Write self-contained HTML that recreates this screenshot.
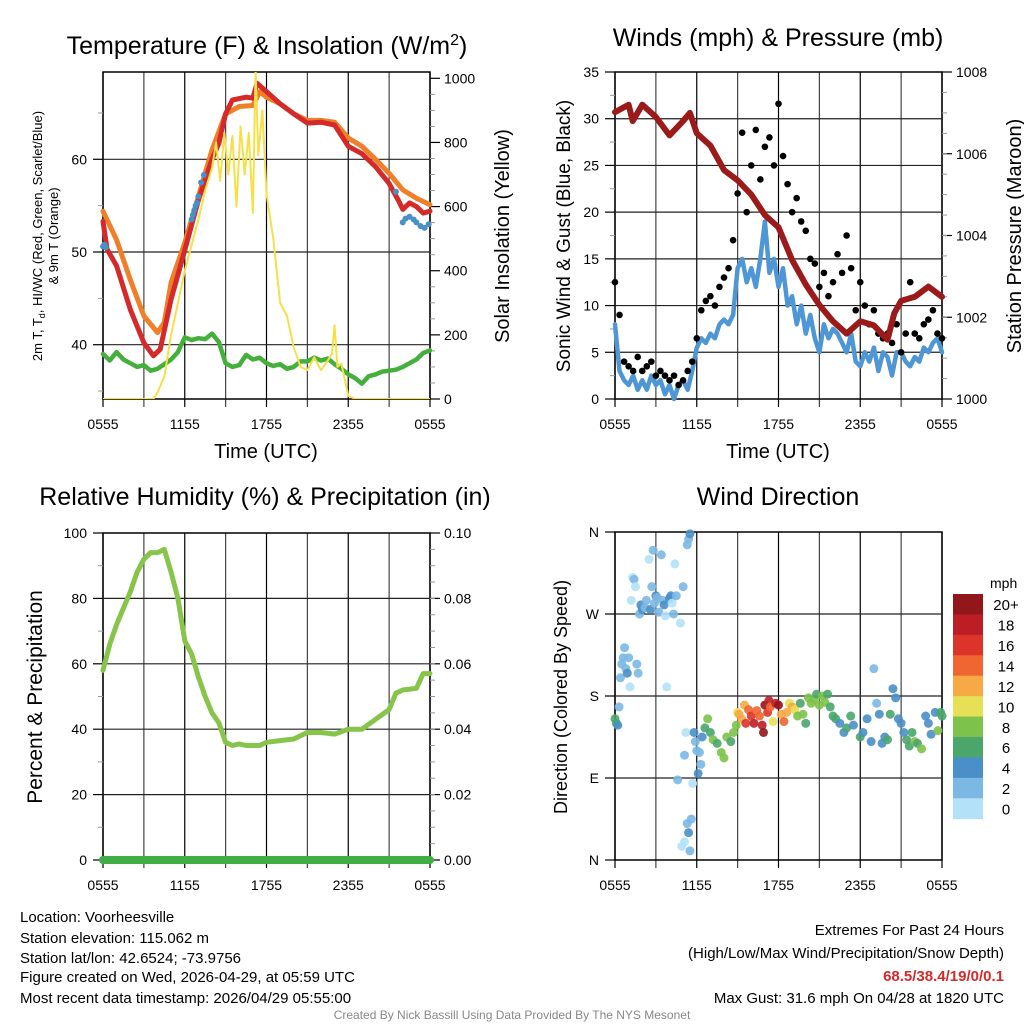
<!DOCTYPE html>
<html><head><meta charset="utf-8">
<style>
html,body{margin:0;padding:0;background:#fff;}
svg{display:block;font-family:"Liberation Sans",sans-serif;}
</style></head>
<body>
<svg id="root" width="1024" height="1024" viewBox="0 0 1024 1024">
<text x="267" y="54" font-size="25" text-anchor="middle">Temperature (F) &amp; Insolation (W/m<tspan dy="-9" font-size="16">2</tspan><tspan dy="9">)</tspan></text>
<text x="778" y="46" font-size="25" text-anchor="middle">Winds (mph) &amp; Pressure (mb)</text>
<text x="265" y="505" font-size="25" text-anchor="middle">Relative Humidity (%) &amp; Precipitation (in)</text>
<text x="778" y="505" font-size="25" text-anchor="middle">Wind Direction</text>

<text x="266" y="458" font-size="20" text-anchor="middle">Time (UTC)</text>
<text x="778" y="458" font-size="20" text-anchor="middle">Time (UTC)</text>

<text transform="translate(42,236) rotate(-90)" font-size="13" text-anchor="middle">2m T, T<tspan dy="3" font-size="9">d</tspan><tspan dy="-3">, HI/WC (Red, Green, Scarlet/Blue)</tspan></text>
<text transform="translate(58,236) rotate(-90)" font-size="13" text-anchor="middle">&amp; 9m T (Orange)</text>
<text transform="translate(509,236) rotate(-90)" font-size="20" text-anchor="middle">Solar Insolation (Yellow)</text>
<text transform="translate(570,236) rotate(-90)" font-size="19" text-anchor="middle">Sonic Wind &amp; Gust (Blue, Black)</text>
<text transform="translate(1021,236) rotate(-90)" font-size="20" text-anchor="middle">Station Pressure (Maroon)</text>
<text transform="translate(42,697) rotate(-90)" font-size="21" text-anchor="middle">Percent &amp; Precipitation</text>
<text transform="translate(567,697) rotate(-90)" font-size="18" text-anchor="middle">Direction (Colored By Speed)</text>

<g font-size="15">
<text x="20" y="922">Location: Voorheesville</text>
<text x="20" y="943">Station elevation: 115.062 m</text>
<text x="20" y="963">Station lat/lon: 42.6524; -73.9756</text>
<text x="20" y="982">Figure created on Wed, 2026-04-29, at 05:59 UTC</text>
<text x="20" y="1003">Most recent data timestamp: 2026/04/29 05:55:00</text>
</g>
<g font-size="15" text-anchor="end">
<text x="1004" y="935">Extremes For Past 24 Hours</text>
<text x="1004" y="958">(High/Low/Max Wind/Precipitation/Snow Depth)</text>
<text x="1004" y="981" fill="#d42a2a" font-weight="bold">68.5/38.4/19/0/0.1</text>
<text x="1004" y="1003">Max Gust: 31.6 mph On 04/28 at 1820 UTC</text>
</g>
<text x="512" y="1019" font-size="12" fill="#888" text-anchor="middle">Created By Nick Bassill Using Data Provided By The NYS Mesonet</text>
</svg>
<script>
// ---- data ----
const xTickLabels = ["0555","1155","1755","2355","0555"];
const redT = [0,0.3,1,2,3,3.7,4.2,5,6,7,8,8.5,9,9.5,10.5,11,11.3,12,13,14,15,16,17,18,19,20,21,21.7,22,22.5,23,23.5,24];
const redV = [53.3,50.3,48.5,43.8,40.2,38.8,39.5,44.9,50.2,55.6,60,61.7,64.9,66.4,66.7,66.6,68.2,67.3,66,64.9,63.9,64,63.7,61.4,60.6,59.2,57.4,55.5,54.6,55.3,54.9,54.2,54.4];
const orangeT = [0,1,2,3,4,4.5,5,6,7,8,9,10,11,11.5,12,13,14,15,16,17,18,19,20,21,22,23,24];
const orangeV = [54.4,51.3,47,43.1,41.3,42.4,46.7,51,56,61,64.9,65.7,65.8,67.3,66.7,66,64.9,64.2,64.2,64,62.3,61.4,60,58.5,56.7,55.8,55.1];
const greenT = [0,0.5,1,1.5,2,2.5,3,3.5,4,4.5,5,5.5,6,6.5,7,7.5,8,8.5,9,9.5,10,10.5,11,11.5,12,12.5,13,13.5,14,14.5,15,15.5,16,16.5,17,17.5,18,18.5,19,19.5,20,20.5,21,21.5,22,22.5,23,23.5,24];
const greenV = [39,38.3,39.2,38.4,38,37.6,37.8,37.2,37.4,37.9,38.4,39.2,40.8,40.5,40.7,40.6,41.2,40.3,38,37.6,37.8,38.9,38.4,38.6,38,37.7,37.9,37.4,37.6,38.2,38.2,38.6,38.3,38.5,37.9,37.4,36.8,36.4,35.8,36.6,36.8,37.1,37.2,37.3,37.6,38,38.4,39.1,39.4];
const blueT = [0,0.1,0.2,6.5,6.6,6.7,6.8,6.9,7,7.2,7.4,21.5,22,22.2,22.5,22.8,23,23.3,23.6,23.9];
const blueV = [50.6,50.8,50.5,53.5,54,54.5,55,55.3,56,57.5,58.3,56.5,53.2,53.6,53.8,53.5,53.2,52.8,52.6,53];
const solT = [0,3.7,4,4.5,5,6,7,7.5,8,8.3,8.6,8.9,9.2,9.5,9.8,10.1,10.4,10.7,11,11.2,11.4,11.7,12,12.5,13,13.5,14,14.5,15,15.5,16,16.5,16.8,17,17.2,17.5,18,18.5,24];
const solV = [0,0,20,70,200,400,560,650,720,800,680,830,700,820,600,850,700,830,580,1030,760,900,640,500,300,260,160,100,90,130,90,120,140,230,100,110,10,0,0];

const windV = [8,3,2,1.5,2.5,1,2,1,2.5,1.5,2,0.5,1.5,0,1.5,2,1,3,5.5,6.5,6,7,6.5,8,8.5,8,9,14,15,12.5,14,12,15,19,13.5,15,12,14,10,11,8,10,7,9,6.5,5,8,6.5,7.5,7,6,5,7,4,3.5,5,4,5.5,3,5,4.5,2.5,5,5,4,3.5,4.5,4,5.5,5,6,6.5,5];
const gustV = [12.5,9,4,3.5,3,4.5,3,3.5,4,2.5,3,2.5,2,2.5,1.5,2,3,4,6.5,9.5,10.5,11,10,12,13,14,17,22,28.5,20,25,28.8,23.5,27,28,25,31.6,26,23,20,21.5,19,18,15,14.5,12,13.5,11,12.5,15.5,13.5,17.5,14,9.5,12.5,10,8,9.5,7,6.5,7,6,8,5,7,12.5,7,6.5,8,8.5,9.5,7,6.5];
const presT = [0,1,1.3,2,3,4,5,5.5,6,7,8,9,10,11,12,13,14,15,16,17,18,19,20,20.5,21,22,23,24];
const presV = [1007.02,1007.2,1006.8,1007.2,1006.9,1006.45,1006.8,1007,1006.5,1006.2,1005.6,1005.35,1005,1004.5,1004.2,1003.4,1002.8,1002.3,1001.9,1001.6,1001.9,1001.8,1001.45,1002.1,1002.4,1002.5,1002.75,1002.5];

const rhT = [0,0.5,1,1.5,2,2.5,3,3.5,4,4.5,5,5.5,6,6.5,7,7.5,8,8.5,9,9.5,10,10.5,11,11.5,12,13,14,15,16,17,18,19,20,21,21.5,22,23,23.5,24];
const rhV = [58,66,72,77,82,88,92,94,94,95,88,80,67,63,56,50,45,42,36,35,35.5,35,35,35,36,36.5,37,39,39,38.5,40,40,43,46,51,52,52.5,57,57];
const precipT = [0,24];
const precipV = [0,0];

const dirT = [0,0.1,0.2,0.3,0.4,0.5,0.6,0.7,0.8,0.9,1.0,1.1,1.2,1.3,1.4,1.5,1.6,1.7,1.8,1.9,2.0,2.2,2.3,2.5,2.6,2.7,2.8,2.9,3.0,3.1,3.2,3.4,3.5,3.6,3.7,3.8,4.0,4.1,4.2,4.3,4.4,4.5,4.6,4.8,5.0,5.1,5.2,5.3,5.4,5.5,5.4,5.5,5.1,5.3,4.9,5.6,5.7,5.8,5.9,6.0,6.1,6.2,6.3,6.4,6.6,6.8,7.0,7.2,7.5,7.8,8.0,8.2,8.5,8.7,8.9,9.0,9.1,9.3,9.5,9.6,9.8,10.0,10.2,10.4,10.6,10.8,10.9,11.0,11.2,11.3,11.4,11.6,11.8,12.0,12.2,12.4,12.6,12.8,13.0,13.2,13.4,13.6,13.8,14.0,14.2,14.4,14.6,14.8,15.0,15.2,15.4,15.6,15.8,16.0,16.2,16.5,16.8,17.0,17.3,17.5,18.0,18.2,18.5,18.8,19.0,19.2,19.4,19.6,19.8,20.0,20.2,20.4,20.6,20.8,21.0,21.2,21.4,21.6,21.8,22.0,22.2,22.5,22.8,23.0,23.2,23.5,23.7,23.9,24.0];
const dirDeg = [155,150,148,168,200,215,222,233,210,205,222,190,285,310,308,300,215,205,270,280,275,277,285,330,275,300,340,282,290,288,272,335,285,280,268,190,287,290,282,270,325,290,88,260,300,115,140,346,352,358,30,10,20,40,15,45,84,140,130,120,95,118,105,135,145,155,140,132,128,118,112,135,130,140,148,162,160,155,170,150,165,158,150,164,158,148,140,170,162,175,168,152,172,170,160,152,162,172,168,165,158,172,160,150,178,172,176,182,170,180,173,182,168,158,155,150,140,145,158,148,135,140,155,130,210,172,160,128,135,132,160,188,178,155,150,140,132,125,140,130,128,122,158,150,138,162,142,162,158];
const dirSpd = [7,7,4,3,3,3,3,2,3,4,3,1,1,1,2,1,3,3,3,4,4,3,2,1,4,2,2,3,4,3,3,2,3,4,1,1,4,4,1,2,1,2,3,1,2,2,1,2,2,5,4,2,1,3,1,3,1,4,2,3,4,2,2,4,6,8,7,8,6,8,8,8,6,8,8,10,12,13,12,16,14,16,18,14,14,18,20,20,16,18,14,10,18,20,12,14,12,10,12,10,8,6,8,6,8,8,8,6,8,8,8,6,6,6,6,4,4,6,6,4,6,4,4,4,2,2,4,4,4,6,6,4,4,4,4,4,6,6,6,8,6,8,4,4,4,4,8,6,6];
const barLabels = ["20+","18","16","14","12","10","8","6","4","2","0"];
const barColors = ["#91171b","#bd1d24","#dc342a","#ef6630","#f6a945","#e5e055","#7dc24a","#4aa66b","#4a8fc7","#7bb8e3","#b3e1f7"];

// ---- drawing ----
const NS="http://www.w3.org/2000/svg";
const root=document.getElementById('root');
function mk(tag,attrs,parent){const e=document.createElementNS(NS,tag);for(const k in attrs)e.setAttribute(k,attrs[k]);(parent||root).appendChild(e);return e;}
function lin(d0,d1,r0,r1){return v=>r0+(v-d0)/(d1-d0)*(r1-r0);}

function panel(name,x0,x1,y0,y1){
  const g=mk('g',{});
  
  
  const xs=lin(0,24,x0,x1);
  for(let h=0;h<=24;h+=3){
    const l=mk('line',{x1:xs(h),x2:xs(h),y1:y0,y2:y1+8,stroke:(h%6==0?'#000':'#444'),'stroke-width':1.2},g);
    
    
  }
  xTickLabels.forEach((s,i)=>{
    const t=mk('text',{x:xs(i*6),y:y1+30,'font-size':14,'text-anchor':'middle'},g);t.textContent=s;
    
    
  });
  const fr=mk('rect',{x:x0,y:y0,width:x1-x0,height:y1-y0,fill:'none',stroke:'#000','stroke-width':1.5},g);
  
  
  return {g,xs};
}
function hgrid(g,ys,vals,x0,x1){vals.forEach(v=>{const l=mk('line',{x1:x0,x2:x1,y1:ys(v),y2:ys(v),stroke:'#222','stroke-width':1.2},g);
  
  });}
function yAxis(g,ys,majors,labels,minors,x,side){
  const dir=side==='left'?-1:1;
  majors.forEach((v,i)=>{mk('line',{x1:x,x2:x+dir*10,y1:ys(v),y2:ys(v),stroke:'#000','stroke-width':1.2},g);
    const t=mk('text',{x:x+dir*(side==='left'?16:14),y:ys(v)+5,'font-size':14,'text-anchor':side==='left'?'end':'start'},g);t.textContent=labels[i];
    
    });
  minors.forEach(v=>mk('line',{x1:x,x2:x+dir*5,y1:ys(v),y2:ys(v),stroke:'#999','stroke-width':1},g));
}
function path(g,xs,ys,T,V,color,w,name){
  const d=T.map((t,i)=>(i?'L':'M')+xs(t).toFixed(1)+','+ys(V[i]).toFixed(1)).join('');
  const p=mk('path',{d,fill:'none',stroke:color,'stroke-width':w,'stroke-linejoin':'round','stroke-linecap':'round'},g);
  
  
  return p;
}
function dots(g,xs,ys,T,V,color,r,name){
  T.forEach((t,i)=>{const c=mk('circle',{cx:xs(t),cy:ys(V[i]),r,fill:color},g);
    
    });
}
function range(a,b,s){const r=[];for(let v=a;v<=b+1e-9;v+=s)r.push(+v.toFixed(4));return r;}

// Panel 1 temperature
(function(){
  const X0=103,X1=430,Y0=72,Y1=399;
  const {g,xs}=panel('temperature-panel',X0,X1,Y0,Y1);
  const yt=lin(40,60,344.7,159.3);
  const yi=lin(0,1000,399,78.3);
  hgrid(g,yt,[40,50,60],X0,X1);
  yAxis(g,yt,[40,50,60],["40","50","60"],[35,45,55,65],X0,'left');
  yAxis(g,yi,range(0,1000,200),range(0,1000,200).map(String),range(100,900,200).concat(range(50,1000,100)),X1,'right');
  path(g,xs,yt,greenT,greenV,'#44b03c',4.5,'dewpoint-line');
  path(g,xs,yt,orangeT,orangeV,'#f07f2a',5,'9m-temperature-line');
  path(g,xs,yt,redT,redV,'#d42a2a',5,'2m-temperature-line');
  dots(g,xs,yt,blueT,blueV,'#4a8fc7',3,'wind-chill-dot');
  const cl=mk('clipPath',{id:'c1'},g);mk('rect',{x:X0,y:Y0,width:X1-X0,height:Y1-Y0},cl);
  const p=path(g,xs,yi,solT,solV,'#f5e04a',2,'insolation-line');p.setAttribute('clip-path','url(#c1)');
})();

// Panel 2 winds
(function(){
  const X0=615,X1=942,Y0=72,Y1=399;
  const {g,xs}=panel('wind-panel',X0,X1,Y0,Y1);
  const yw=lin(0,35,Y1,Y0);
  const yp=lin(1000,1008,Y1,Y0);
  hgrid(g,yw,range(5,30,5),X0,X1);
  yAxis(g,yw,range(0,35,5),range(0,35,5).map(String),range(2.5,32.5,5),X0,'left');
  yAxis(g,yp,range(1000,1008,2),range(1000,1008,2).map(String),range(1000.5,1007.5,0.5),X1,'right');
  const wt=windV.map((_,i)=>i/3);
  path(g,xs,yw,wt,windV,'#4f97d4',4.5,'sustained-wind-line');
  const gt=gustV.map((_,i)=>i/3);
  dots(g,xs,yw,gt,gustV,'#000',3.3,'gust-dot');
  path(g,xs,yp,presT,presV,'#9b1a1a',6,'pressure-line');
})();

// Panel 3 RH
(function(){
  const X0=103,X1=430,Y0=533,Y1=860;
  const {g,xs}=panel('humidity-panel',X0,X1,Y0,Y1);
  const yr=lin(0,100,Y1,Y0);
  const yq=lin(0,0.1,Y1,Y0);
  hgrid(g,yr,[20,40,60,80],X0,X1);
  yAxis(g,yr,range(0,100,20),range(0,100,20).map(String),range(10,90,20),X0,'left');
  yAxis(g,yq,range(0,0.1,0.02),["0.00","0.02","0.04","0.06","0.08","0.10"],range(0.005,0.095,0.005),X1,'right');
  path(g,xs,yr,rhT,rhV,'#86c44a',5,'relative-humidity-line');
  path(g,xs,yq,precipT,precipV,'#3fae45',8,'precipitation-line');
})();

// Panel 4 wind direction
(function(){
  const X0=615,X1=942,Y0=532,Y1=860;
  const {g,xs}=panel('wind-direction-panel',X0,X1,Y0,Y1);
  const yd=lin(0,360,Y1,Y0);
  hgrid(g,yd,[90,180,270],X0,X1);
  yAxis(g,yd,[0,90,180,270,360],["N","E","S","W","N"],[],X0,'left');
  dirT.forEach((t,i)=>{
    const b=Math.min(10,Math.floor(dirSpd[i]/2));
    const c=mk('circle',{cx:xs(t),cy:yd(dirDeg[i]),r:4.5,fill:barColors[10-b],'fill-opacity':0.9},g);
    
    
  });
  const cb=mk('g',{});
  
  
  const t=mk('text',{x:990,y:588,'font-size':14},cb);t.textContent='mph';
  const h=(818.7-594)/barLabels.length;
  barLabels.forEach((s,i)=>{
    const r=mk('rect',{x:953,y:594+i*h,width:30,height:h+0.5,fill:barColors[i]},cb);
    
    
    const tt=mk('text',{x:1006,y:594+i*h+h/2+6,'font-size':15,'text-anchor':'middle'},cb);tt.textContent=s;
    
    
  });
})();
</script>
</body></html>
